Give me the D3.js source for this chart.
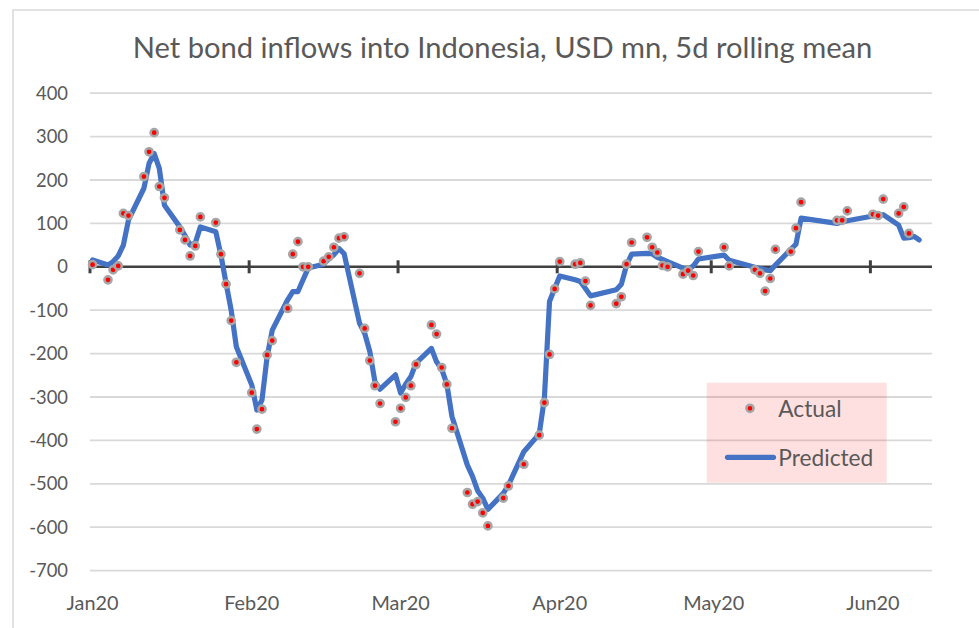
<!DOCTYPE html>
<html>
<head>
<meta charset="utf-8">
<script src="https://cdn.jsdelivr.net/npm/d3@7"></script>
<style>
  body { margin: 0; background: #ffffff; }
  svg { display: block; }
  text { font-family: Lato, "Open Sans", "DejaVu Sans", sans-serif; }
</style>
</head>
<body>
<svg id="chart" width="979" height="628"></svg>
<script>
// ---------------- DATA ----------------
const title = "Net bond inflows into Indonesia, USD mn, 5d rolling mean";

const dates = [
  "2020-01-03",
  "2020-01-06","2020-01-07","2020-01-08","2020-01-09","2020-01-10",
  "2020-01-13","2020-01-14","2020-01-15","2020-01-16","2020-01-17",
  "2020-01-20","2020-01-21","2020-01-22","2020-01-23","2020-01-24",
  "2020-01-27","2020-01-28","2020-01-29","2020-01-30","2020-01-31",
  "2020-02-03","2020-02-04","2020-02-05","2020-02-06","2020-02-07",
  "2020-02-10","2020-02-11","2020-02-12","2020-02-13","2020-02-14",
  "2020-02-17","2020-02-18","2020-02-19","2020-02-20","2020-02-21",
  "2020-02-24","2020-02-25","2020-02-26","2020-02-27","2020-02-28",
  "2020-03-02","2020-03-03","2020-03-04","2020-03-05","2020-03-06",
  "2020-03-09","2020-03-10","2020-03-11","2020-03-12","2020-03-13",
  "2020-03-16","2020-03-17","2020-03-18","2020-03-19","2020-03-20",
  "2020-03-23","2020-03-24","2020-03-27",
  "2020-03-30","2020-03-31","2020-04-01","2020-04-02","2020-04-03",
  "2020-04-06","2020-04-07","2020-04-08","2020-04-09",
  "2020-04-14","2020-04-15","2020-04-16","2020-04-17",
  "2020-04-20","2020-04-21","2020-04-22","2020-04-23","2020-04-24",
  "2020-04-27","2020-04-28","2020-04-29","2020-04-30",
  "2020-05-05","2020-05-06",
  "2020-05-11","2020-05-12","2020-05-13","2020-05-14","2020-05-15",
  "2020-05-18","2020-05-19","2020-05-20",
  "2020-05-27","2020-05-28","2020-05-29",
  "2020-06-03","2020-06-04","2020-06-05",
  "2020-06-08","2020-06-09","2020-06-10","2020-06-11","2020-06-12"
];

const actual = [
  5,
  -30, -7, 2, 123, 118,
  208, 265, 309, 185, 159,
  85, 62, 25, 48, 115,
  102, 29, -40, -124, -220,
  -290, -374, -328, -203, -170,
  -96, 29, 58, 0, 0,
  13, 23, 45, 66, 69,
  -15, -142, -216, -274, -315,
  -357, -326, -301, -274, -225,
  -134, -155, -232, -271, -372,
  -520, -547, -541, -567, -597,
  -533, -505, -455,
  -388, -313, -202, -51, 12,
  6, 9, -33, -89,
  -85, -69, 6, 56,
  68, 45, 33, 3, 0,
  -17, -9, -20, 35,
  45, 2,
  -7, -15, -56, -27, 40,
  35, 89, 149,
  107, 107, 129,
  121, 118, 156,
  123, 138, 77, null, null
];

const predicted = [
  16,
  4, 12, 25, 50, 108,
  181, 238, 261, 227, 142,
  92, 72, 50, 55, 92,
  81, 27, -38, -100, -184,
  -272, -330, -307, -207, -146,
  -76, -57, -57, -30, -3,
  6, 18, 28, 42, 30,
  -130, -153, -195, -265, -282,
  -249, -291, -270, -253, -222,
  -188, -219, -236, -270, -345,
  -457, -483, -516, -533, -559,
  -522, -503, -426,
  -385, -303, -80, -50, -21,
  -30, -34, -50, -67,
  -53, -40, 4, 29,
  31, 30, 22, 17, 12,
  -3, -7, 2, 18,
  27, 15,
  -1, -4, -7, -9, 4,
  40, 52, 112,
  100, 103, 106,
  117, 119, 120,
  96, 66, 67, 70, 62
];

const yTicks = [400, 300, 200, 100, 0, -100, -200, -300, -400, -500, -600, -700];
const monthTicks = ["2020-01-01","2020-02-01","2020-03-01","2020-04-01","2020-05-01","2020-06-01"];
const monthLabels = ["Jan20","Feb20","Mar20","Apr20","May20","Jun20"];
const seriesNames = ["Actual", "Predicted"];

// ---------------- CHART ----------------
const svg = d3.select("#chart");
const parse = d3.utcParse("%Y-%m-%d");

const plot = { left: 90, right: 932, top: 93.2, bottom: 570.6 };
const axisStart = parse("2020-01-01");
const axisEnd = parse("2020-06-13");

const x = d3.scaleUtc().domain([axisStart, axisEnd]).range([plot.left, plot.right]);
const y = d3.scaleLinear().domain([-700, 400]).range([plot.bottom, plot.top]);
const dayW = (plot.right - plot.left) / d3.utcDay.count(axisStart, axisEnd);
const pointShift = -1.5 * dayW;   // category slot placement of the original axis

const rows = dates.map((d, i) => ({ date: parse(d), a: actual[i], p: predicted[i] }));
const px = d => x(d.date) + pointShift;

const textColor = "#595959";

// chart frame
svg.append("rect").attr("x", 13).attr("y", 10).attr("width", 1000).attr("height", 700)
  .attr("fill", "#ffffff").attr("stroke", "#d9d9d9").attr("stroke-width", 1.5);

function fitSize(str, target, weight) {
  const base = 20;
  const t = svg.append("text").attr("font-size", base).attr("font-weight", weight || 400).text(str);
  const w = t.node().getComputedTextLength();
  t.remove();
  return base * target / w;
}

const titleSize = fitSize(title, 740, 400);
const yLabSize = fitSize("400", 32, 400);
const xLabSize = fitSize("Jan20", 52, 400);
const legSize = fitSize("Predicted", 95, 400);

// title
svg.append("text").attr("x", 502.5).attr("y", 58).attr("text-anchor", "middle")
  .attr("font-size", titleSize).attr("font-weight", 400).attr("fill", textColor).text(title);

// gridlines
svg.append("g").selectAll("line").data(yTicks).join("line")
  .attr("x1", plot.left).attr("x2", plot.right)
  .attr("y1", d => y(d)).attr("y2", d => y(d))
  .attr("stroke", "#d9d9d9").attr("stroke-width", 1.8);

// y labels
svg.append("g").selectAll("text").data(yTicks).join("text")
  .attr("x", 68).attr("y", d => y(d)).attr("dy", "0.36em")
  .attr("text-anchor", "end").attr("font-size", yLabSize).attr("fill", textColor)
  .text(d => d);

// legend box (behind data, above gridlines)
svg.append("rect").attr("x", 706.7).attr("y", 382.7).attr("width", 180).attr("height", 100)
  .attr("fill", "#ff0000").attr("fill-opacity", 0.12);

// zero axis with month ticks
svg.append("line").attr("x1", plot.left).attr("x2", plot.right)
  .attr("y1", y(0)).attr("y2", y(0)).attr("stroke", "#404040").attr("stroke-width", 2.6);
svg.append("g").selectAll("line").data(monthTicks).join("line")
  .attr("x1", d => x(parse(d))).attr("x2", d => x(parse(d)))
  .attr("y1", y(0) - 6.5).attr("y2", y(0) + 6.5)
  .attr("stroke", "#404040").attr("stroke-width", 3);

// x labels
svg.append("g").selectAll("text").data(monthTicks).join("text")
  .attr("x", d => x(parse(d)) + dayW / 2).attr("y", 603).attr("dy", "0.36em")
  .attr("text-anchor", "middle").attr("font-size", xLabSize).attr("fill", textColor)
  .text((d, i) => monthLabels[i]);

// predicted line
const line = d3.line().x(px).y(d => y(d.p)).defined(d => d.p != null);
svg.append("path").datum(rows).attr("d", line)
  .attr("fill", "none").attr("stroke", "#4472c4").attr("stroke-width", 5.2)
  .attr("stroke-linejoin", "round").attr("stroke-linecap", "round");

// actual dots
svg.append("g").selectAll("circle").data(rows.filter(d => d.a != null)).join("circle")
  .attr("cx", px).attr("cy", d => y(d.a)).attr("r", 3.6)
  .attr("fill", "#ff0000").attr("stroke", "#a6a6a6").attr("stroke-width", 2.5);

// legend items
const leg = svg.append("g");
leg.append("circle").attr("cx", 750).attr("cy", 408.3).attr("r", 3.6)
  .attr("fill", "#ff0000").attr("stroke", "#a6a6a6").attr("stroke-width", 2.5);
leg.append("text").attr("x", 778.3).attr("y", 408.5).attr("dy", "0.36em")
  .attr("font-size", legSize).attr("fill", textColor).text(seriesNames[0]);
leg.append("line").attr("x1", 727.5).attr("x2", 773.5).attr("y1", 457.3).attr("y2", 457.3)
  .attr("stroke", "#4472c4").attr("stroke-width", 5.2).attr("stroke-linecap", "round");
leg.append("text").attr("x", 778.3).attr("y", 458.3).attr("dy", "0.36em")
  .attr("font-size", legSize).attr("fill", textColor).text(seriesNames[1]);
</script>
</body>
</html>
